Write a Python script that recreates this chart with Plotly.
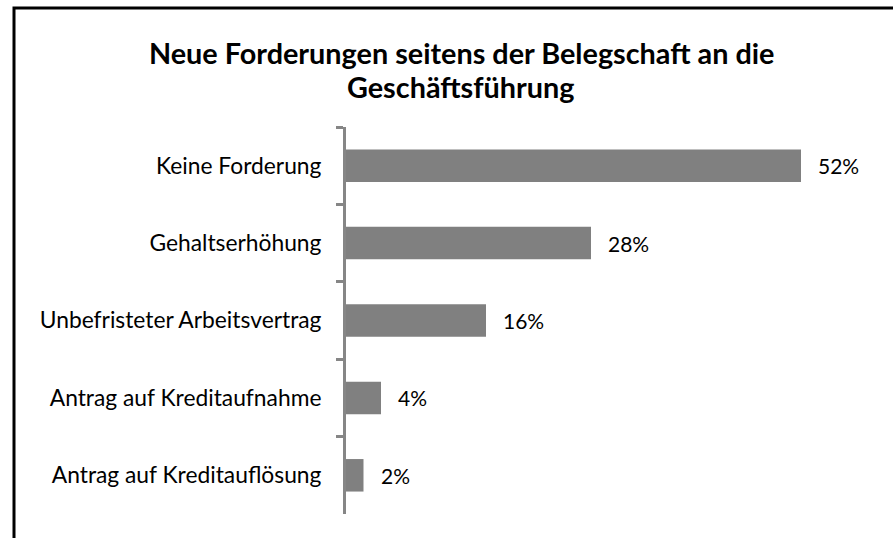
import plotly.graph_objects as go

categories = ["Keine Forderung", "Gehaltserhöhung", "Unbefristeter Arbeitsvertrag",
              "Antrag auf Kreditaufnahme", "Antrag auf Kreditauflösung"]
values = [52, 28, 16, 4, 2]
value_labels = ["52%", "28%", "16%", "4%", "2%"]
title_lines = ["Neue Forderungen seitens der Belegschaft an die", "Geschäftsführung"]

FONT = "Lato"
W, H = 893, 538
L, R, T, B = 346, 22, 127, 24

fig = go.Figure()
fig.add_trace(go.Bar(
    y=categories, x=values, orientation="h",
    marker=dict(color="#808080", line=dict(width=0)),
    width=0.42, hoverinfo="skip",
))

for c, v, lab in zip(categories, values, value_labels):
    fig.add_annotation(x=v, y=c, text=lab, showarrow=False, xanchor="left",
                       xshift=15, font=dict(family=FONT, size=21, color="#000000"))

for i, line in enumerate(title_lines):
    fig.add_annotation(xref="paper", yref="paper", x=(461 - L) / (W - L - R),
                       y=(H - B - (53 + 34 * i)) / (H - T - B),
                       text="<b>%s</b>" % line, showarrow=False, xanchor="center",
                       yanchor="middle", font=dict(family=FONT, size=28.8, color="#000000"))

# outer border (chart area frame, cut off at the right and bottom)
pw, ph = W - L - R, H - T - B
fig.add_shape(type="rect", xref="paper", yref="paper",
              x0=(14 - L) / pw, x1=(W + 20 - L) / pw,
              y0=(H - B - (H + 20)) / ph, y1=(H - B - 8) / ph,
              line=dict(color="#000000", width=3), layer="below")

fig.update_layout(
    width=W, height=H, margin=dict(l=L, r=R, t=T, b=B),
    paper_bgcolor="#ffffff", plot_bgcolor="#ffffff",
    showlegend=False,
    font=dict(family=FONT, size=22, color="#000000"),
)
fig.update_xaxes(range=[0, 60], visible=False, fixedrange=True)
fig.update_yaxes(
    autorange="reversed", showline=True, linecolor="#868686", linewidth=3,
    ticks="outside", tickson="boundaries", ticklen=7, tickwidth=3, tickcolor="#868686",
    ticklabelstandoff=17, showgrid=False, zeroline=False, fixedrange=True,
    tickfont=dict(family=FONT, size=22.8, color="#000000"),
)

fig.write_html("out.html", config={"displayModeBar": False, "staticPlot": True},
               post_script="document.body.style.margin='0';document.body.style.overflow='hidden';")
